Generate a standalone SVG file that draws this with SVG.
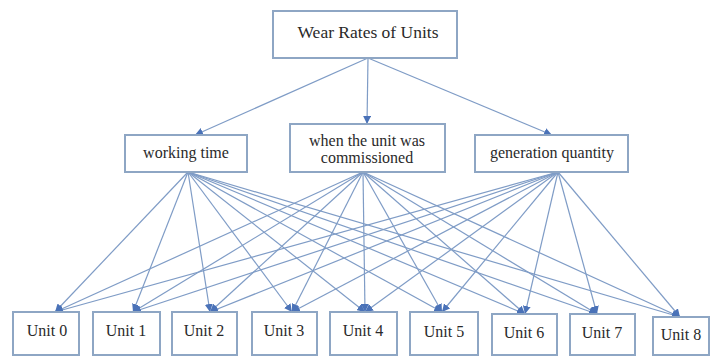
<svg xmlns="http://www.w3.org/2000/svg" width="711" height="357" viewBox="0 0 711 357">
<defs>
<marker id="ah" viewBox="0 0 10 10" refX="10" refY="5" markerWidth="8" markerHeight="8" markerUnits="userSpaceOnUse" orient="auto">
<path d="M0,0 L10,5 L0,10 z" fill="#4a72b8"/>
</marker>
<style>
.box{fill:#ffffff;stroke:#8ea6c4;stroke-width:2}
.t{font-family:'Liberation Serif','DejaVu Serif',serif;font-size:16px;fill:#2a2a2a;text-anchor:middle}
.big{font-size:17.5px}
.c line{stroke:#7f9cc6;stroke-width:1.2;marker-end:url(#ah)}
</style>
</defs>
<rect width="711" height="357" fill="#ffffff"/>
<g class="c" id="connectors">
<line x1="368" y1="58" x2="195" y2="135"/>
<line x1="368" y1="58" x2="367" y2="124"/>
<line x1="368" y1="58" x2="552" y2="135"/>
<line x1="188" y1="172" x2="55" y2="312"/>
<line x1="188" y1="172" x2="133" y2="312"/>
<line x1="188" y1="172" x2="210" y2="312"/>
<line x1="188" y1="172" x2="292" y2="312"/>
<line x1="188" y1="172" x2="365" y2="312"/>
<line x1="188" y1="172" x2="442" y2="312"/>
<line x1="188" y1="172" x2="525" y2="314"/>
<line x1="188" y1="172" x2="597" y2="314"/>
<line x1="188" y1="172" x2="680" y2="317"/>
<line x1="363" y1="172" x2="55" y2="312"/>
<line x1="363" y1="172" x2="133" y2="312"/>
<line x1="363" y1="172" x2="210" y2="312"/>
<line x1="363" y1="172" x2="292" y2="312"/>
<line x1="363" y1="172" x2="365" y2="312"/>
<line x1="363" y1="172" x2="442" y2="312"/>
<line x1="363" y1="172" x2="525" y2="314"/>
<line x1="363" y1="172" x2="597" y2="314"/>
<line x1="363" y1="172" x2="680" y2="317"/>
<line x1="558" y1="172" x2="55" y2="312"/>
<line x1="558" y1="172" x2="133" y2="312"/>
<line x1="558" y1="172" x2="210" y2="312"/>
<line x1="558" y1="172" x2="292" y2="312"/>
<line x1="558" y1="172" x2="365" y2="312"/>
<line x1="558" y1="172" x2="442" y2="312"/>
<line x1="558" y1="172" x2="525" y2="314"/>
<line x1="558" y1="172" x2="597" y2="314"/>
<line x1="558" y1="172" x2="680" y2="317"/>
</g>
<g id="top"><rect class="box" x="273" y="11" width="184" height="47"/><text class="t big" x="368" y="38">Wear Rates of Units</text></g>
<g id="working"><rect class="box" x="125" y="135" width="122" height="37"/><text class="t" x="186" y="158">working time</text></g>
<g id="commissioned"><rect class="box" x="290" y="124" width="155" height="48"/><text class="t" x="367" y="146">when the unit was</text><text class="t" x="367" y="163">commissioned</text></g>
<g id="generation"><rect class="box" x="475" y="135" width="153" height="37"/><text class="t" x="552" y="158">generation quantity</text></g>
<g id="u0"><rect class="box" x="13" y="312" width="66" height="43"/><text class="t" x="47" y="336">Unit 0</text></g>
<g id="u1"><rect class="box" x="93" y="312" width="67" height="43"/><text class="t" x="126" y="336">Unit 1</text></g>
<g id="u2"><rect class="box" x="172" y="312" width="65" height="43"/><text class="t" x="204" y="336">Unit 2</text></g>
<g id="u3"><rect class="box" x="252" y="312" width="65" height="43"/><text class="t" x="284" y="336">Unit 3</text></g>
<g id="u4"><rect class="box" x="330" y="312" width="67" height="43"/><text class="t" x="363" y="336">Unit 4</text></g>
<g id="u5"><rect class="box" x="410" y="312" width="68" height="43"/><text class="t" x="444" y="337">Unit 5</text></g>
<g id="u6"><rect class="box" x="492" y="314" width="65" height="41"/><text class="t" x="524" y="338">Unit 6</text></g>
<g id="u7"><rect class="box" x="570" y="314" width="65" height="41"/><text class="t" x="602" y="338">Unit 7</text></g>
<g id="u8"><rect class="box" x="653" y="317" width="56" height="38"/><text class="t" x="681" y="340">Unit 8</text></g>
</svg>
